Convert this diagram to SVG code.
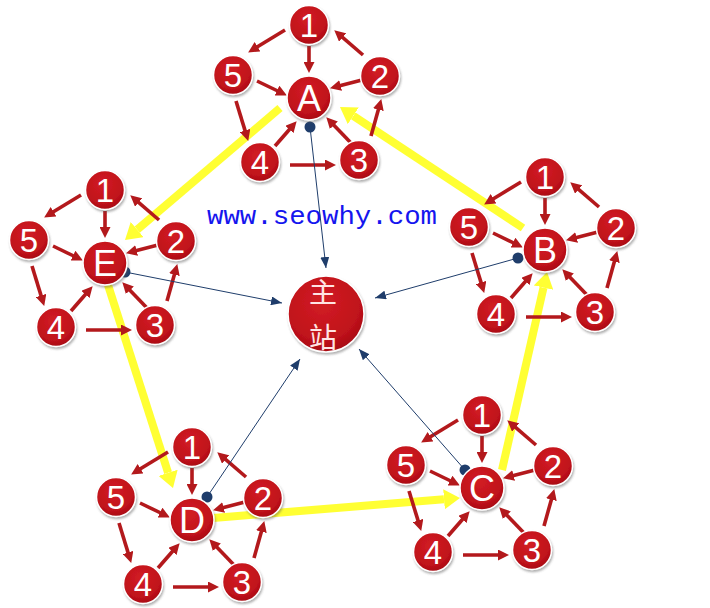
<svg xmlns="http://www.w3.org/2000/svg" xmlns:xlink="http://www.w3.org/1999/xlink" width="710" height="608" viewBox="0 0 710 608">
<defs>
<style>
.node circle{fill:url(#rg);stroke:#fff;stroke-width:1.5;filter:url(#sh)}
.num{font-family:"Liberation Sans",Arial,sans-serif;font-size:33px;fill:#fff;text-anchor:middle}
.let{font-family:"Liberation Sans",Arial,sans-serif;font-size:36px;fill:#fff;text-anchor:middle}
.red{stroke:#b3191c;stroke-width:3.6;fill:none;marker-end:url(#rh)}
.blue{stroke:#1f3d6b;stroke-width:1;fill:none;marker-end:url(#bh)}
.dot{fill:#1f3d6b}
.yel{stroke:#ffff33;stroke-width:8;fill:none;marker-end:url(#yh)}
.cjk{font-family:"Noto Sans CJK SC",sans-serif;font-size:28px;fill:#ffe4e4;text-anchor:middle}
</style>
<radialGradient id="rg" cx="45%" cy="35%" r="65%">
<stop offset="0" stop-color="#d21d24"/>
<stop offset="0.75" stop-color="#c0121b"/>
<stop offset="1" stop-color="#a80d14"/>
</radialGradient>
<filter id="sh" x="-30%" y="-30%" width="160%" height="160%">
<feDropShadow dx="1" dy="2" stdDeviation="1.2" flood-color="#555" flood-opacity="0.45"/>
</filter>
<marker id="rh" markerUnits="userSpaceOnUse" markerWidth="11" markerHeight="11" refX="2" refY="5.5" orient="auto">
<path d="M0,0 L11,5.5 L0,11 z" fill="#b3191c"/>
</marker>
<marker id="bh" markerUnits="userSpaceOnUse" markerWidth="11" markerHeight="9" refX="11" refY="4.5" orient="auto">
<path d="M0,0 L11,4.5 L0,9 z" fill="#1f3d6b"/>
</marker>
<marker id="yh" markerUnits="userSpaceOnUse" markerWidth="16" markerHeight="20" refX="0" refY="10" orient="auto">
<path d="M0,0 L16,10 L0,20 z" fill="#ffff33"/>
</marker>
<g id="redset">
<line class="red" x1="-24" y1="-68" x2="-53.2" y2="-50.2"/>
<line class="red" x1="0" y1="-52" x2="0" y2="-34"/>
<line class="red" x1="54" y1="-43" x2="32.1" y2="-61.8"/>
<line class="red" x1="53" y1="-18" x2="29.7" y2="-12"/>
<line class="red" x1="-52" y1="-17" x2="-30.2" y2="-6.5"/>
<line class="red" x1="-73" y1="3" x2="-63.4" y2="34.4"/>
<line class="red" x1="-34" y1="48" x2="-18.3" y2="30"/>
<line class="red" x1="-19" y1="67" x2="18" y2="67"/>
<line class="red" x1="42" y1="45" x2="23.5" y2="25.8"/>
<line class="red" x1="62" y1="38" x2="69.9" y2="9.7"/>
</g>
</defs>
<rect width="710" height="608" fill="#fff"/>

<g id="connectors">
<g id="yellow">
<line class="yel" x1="280" y1="108" x2="137.2" y2="229.6"/>
<line class="yel" x1="523" y1="228" x2="353.3" y2="115.8"/>
<line class="yel" x1="502" y1="470" x2="543.5" y2="287.6"/>
<line class="yel" x1="213" y1="518" x2="444" y2="499.3"/>
<line class="yel" x1="108" y1="285" x2="168.1" y2="472.8"/>
</g>
<g id="red">
<use xlink:href="#redset" transform="translate(309,98)"/>
<use xlink:href="#redset" transform="translate(105,263)"/>
<use xlink:href="#redset" transform="translate(545,250)"/>
<use xlink:href="#redset" transform="translate(192,520)"/>
<use xlink:href="#redset" transform="translate(482,488)"/>
</g>
<g id="blue">
<line class="blue" x1="310" y1="127" x2="326" y2="268"/>
<line class="blue" x1="125" y1="272" x2="282" y2="303"/>
<line class="blue" x1="518" y1="258" x2="375" y2="298"/>
<line class="blue" x1="207" y1="497" x2="300" y2="359"/>
<line class="blue" x1="465" y1="470" x2="359" y2="349"/>
<circle class="dot" cx="310" cy="127" r="5.5"/>
<circle class="dot" cx="125" cy="272" r="5.5"/>
<circle class="dot" cx="518" cy="258" r="5.5"/>
<circle class="dot" cx="207" cy="497" r="5.5"/>
<circle class="dot" cx="465" cy="470" r="5.5"/>
</g>
</g>

<text x="207" y="224" font-family="'Liberation Mono',monospace" font-size="25" fill="#1515ee" textLength="230" lengthAdjust="spacingAndGlyphs">www.seowhy.com</text>

<g id="main" class="node">
<circle cx="326" cy="314" r="38"/>
<text class="cjk" x="323" y="303">主</text>
<text class="cjk" x="323" y="348">站</text>
</g>

<g id="clusterA" transform="translate(309,98)">
<g id="A" class="node"><circle cx="0" cy="0" r="22"/><text class="let" x="0" y="13">A</text></g>
<g id="A1" class="node"><circle cx="0" cy="-73" r="19.5"/><text class="num" x="0" y="-61">1</text></g>
<g id="A2" class="node"><circle cx="71" cy="-22" r="19.5"/><text class="num" x="71" y="-10">2</text></g>
<g id="A3" class="node"><circle cx="50" cy="62" r="19.5"/><text class="num" x="50" y="74">3</text></g>
<g id="A4" class="node"><circle cx="-49" cy="64" r="19.5"/><text class="num" x="-49" y="76">4</text></g>
<g id="A5" class="node"><circle cx="-76" cy="-23" r="19.5"/><text class="num" x="-76" y="-11">5</text></g>
</g>

<g id="clusterE" transform="translate(105,263)">
<g id="E" class="node"><circle cx="0" cy="0" r="22"/><text class="let" x="0" y="13">E</text></g>
<g id="E1" class="node"><circle cx="0" cy="-73" r="19.5"/><text class="num" x="0" y="-61">1</text></g>
<g id="E2" class="node"><circle cx="71" cy="-22" r="19.5"/><text class="num" x="71" y="-10">2</text></g>
<g id="E3" class="node"><circle cx="50" cy="62" r="19.5"/><text class="num" x="50" y="74">3</text></g>
<g id="E4" class="node"><circle cx="-49" cy="64" r="19.5"/><text class="num" x="-49" y="76">4</text></g>
<g id="E5" class="node"><circle cx="-76" cy="-23" r="19.5"/><text class="num" x="-76" y="-11">5</text></g>
</g>

<g id="clusterB" transform="translate(545,250)">
<g id="B" class="node"><circle cx="0" cy="0" r="22"/><text class="let" x="0" y="13">B</text></g>
<g id="B1" class="node"><circle cx="0" cy="-73" r="19.5"/><text class="num" x="0" y="-61">1</text></g>
<g id="B2" class="node"><circle cx="71" cy="-22" r="19.5"/><text class="num" x="71" y="-10">2</text></g>
<g id="B3" class="node"><circle cx="50" cy="62" r="19.5"/><text class="num" x="50" y="74">3</text></g>
<g id="B4" class="node"><circle cx="-49" cy="64" r="19.5"/><text class="num" x="-49" y="76">4</text></g>
<g id="B5" class="node"><circle cx="-76" cy="-23" r="19.5"/><text class="num" x="-76" y="-11">5</text></g>
</g>

<g id="clusterD" transform="translate(192,520)">
<g id="D" class="node"><circle cx="0" cy="0" r="22"/><text class="let" x="0" y="13">D</text></g>
<g id="D1" class="node"><circle cx="0" cy="-73" r="19.5"/><text class="num" x="0" y="-61">1</text></g>
<g id="D2" class="node"><circle cx="71" cy="-22" r="19.5"/><text class="num" x="71" y="-10">2</text></g>
<g id="D3" class="node"><circle cx="50" cy="62" r="19.5"/><text class="num" x="50" y="74">3</text></g>
<g id="D4" class="node"><circle cx="-49" cy="64" r="19.5"/><text class="num" x="-49" y="76">4</text></g>
<g id="D5" class="node"><circle cx="-76" cy="-23" r="19.5"/><text class="num" x="-76" y="-11">5</text></g>
</g>

<g id="clusterC" transform="translate(482,488)">
<g id="C" class="node"><circle cx="0" cy="0" r="22"/><text class="let" x="0" y="13">C</text></g>
<g id="C1" class="node"><circle cx="0" cy="-73" r="19.5"/><text class="num" x="0" y="-61">1</text></g>
<g id="C2" class="node"><circle cx="71" cy="-22" r="19.5"/><text class="num" x="71" y="-10">2</text></g>
<g id="C3" class="node"><circle cx="50" cy="62" r="19.5"/><text class="num" x="50" y="74">3</text></g>
<g id="C4" class="node"><circle cx="-49" cy="64" r="19.5"/><text class="num" x="-49" y="76">4</text></g>
<g id="C5" class="node"><circle cx="-76" cy="-23" r="19.5"/><text class="num" x="-76" y="-11">5</text></g>
</g>
</svg>
